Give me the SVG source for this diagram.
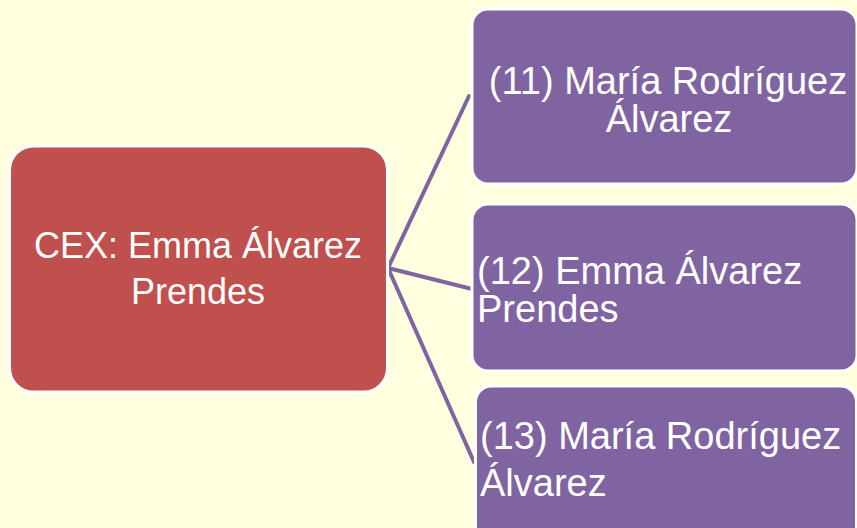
<svg xmlns="http://www.w3.org/2000/svg" width="857" height="528" viewBox="0 0 857 528">
<style>
.bg{fill:#FFFFE0}
.root{fill:#C0504D;stroke:#FFFFFF;stroke-width:3}
.child{fill:#8064A2;stroke:#FFFFFF;stroke-width:3}
.conn{stroke:#8064A2;stroke-width:4;fill:none;stroke-linecap:round}
.t{font-family:"Liberation Sans",Arial,sans-serif;fill:#FFFFFF}
.t36{font-size:36px}
.t38{font-size:38px}
</style>
<rect class="bg" x="0" y="0" width="857" height="528"/>
<g id="connectors">
<line class="conn" x1="388" y1="268" x2="469" y2="96"/>
<line class="conn" x1="388" y1="268" x2="472" y2="289"/>
<line class="conn" x1="388" y1="268" x2="474" y2="462"/>
</g>
<g id="node-root">
<rect class="root" x="9.5" y="146" width="378" height="246" rx="24" ry="24"/>
<text class="t t36" x="198" y="258" text-anchor="middle">CEX: Emma Álvarez</text>
<text class="t t36" x="198" y="304" text-anchor="middle">Prendes</text>
</g>
<g id="node-11">
<rect class="child" x="472" y="9" width="385" height="175" rx="16" ry="16"/>
<text class="t t38" x="668" y="94" text-anchor="middle">(11) María Rodríguez</text>
<text class="t t38" x="669" y="132" text-anchor="middle">Álvarez</text>
</g>
<g id="node-12">
<rect class="child" x="472" y="204" width="385" height="167" rx="16" ry="16"/>
<text class="t t38" x="477" y="284">(12) Emma Álvarez</text>
<text class="t t38" x="477" y="322">Prendes</text>
</g>
<g id="node-13">
<rect class="child" x="475.5" y="386" width="381" height="170" rx="16" ry="16"/>
<text class="t t38" x="480" y="449">(13) María Rodríguez</text>
<text class="t t38" x="480" y="496">Álvarez</text>
</g>
</svg>
